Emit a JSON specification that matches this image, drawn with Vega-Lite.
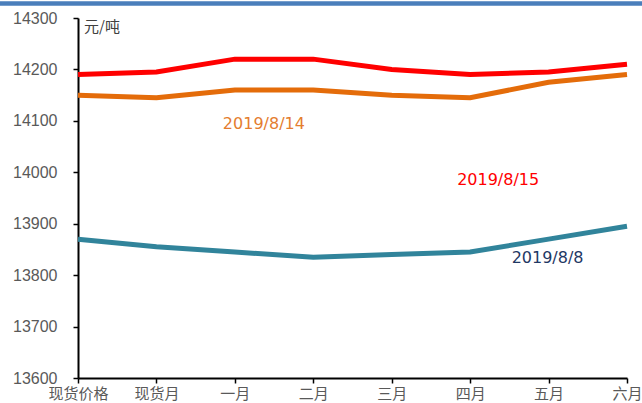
{
  "$schema": "https://vega.github.io/schema/vega-lite/v6.json",
  "width": 549,
  "height": 360,
  "autosize": {"type": "none"},
  "padding": {"left": 78, "top": 18, "right": 15, "bottom": 25},
  "background": "white",
  "config": {"view": {"stroke": null}},
  "layer": [
    {
      "data": {"values": [
        {"series": "2019/8/15", "month": "现货价格", "value": 14190},
        {"series": "2019/8/15", "month": "现货月", "value": 14195},
        {"series": "2019/8/15", "month": "一月", "value": 14220},
        {"series": "2019/8/15", "month": "二月", "value": 14220},
        {"series": "2019/8/15", "month": "三月", "value": 14200},
        {"series": "2019/8/15", "month": "四月", "value": 14190},
        {"series": "2019/8/15", "month": "五月", "value": 14195},
        {"series": "2019/8/15", "month": "六月", "value": 14210},
        {"series": "2019/8/14", "month": "现货价格", "value": 14150},
        {"series": "2019/8/14", "month": "现货月", "value": 14145},
        {"series": "2019/8/14", "month": "一月", "value": 14160},
        {"series": "2019/8/14", "month": "二月", "value": 14160},
        {"series": "2019/8/14", "month": "三月", "value": 14150},
        {"series": "2019/8/14", "month": "四月", "value": 14145},
        {"series": "2019/8/14", "month": "五月", "value": 14175},
        {"series": "2019/8/14", "month": "六月", "value": 14190},
        {"series": "2019/8/8", "month": "现货价格", "value": 13870},
        {"series": "2019/8/8", "month": "现货月", "value": 13855},
        {"series": "2019/8/8", "month": "一月", "value": 13845},
        {"series": "2019/8/8", "month": "二月", "value": 13835},
        {"series": "2019/8/8", "month": "三月", "value": 13840},
        {"series": "2019/8/8", "month": "四月", "value": 13845},
        {"series": "2019/8/8", "month": "五月", "value": 13870},
        {"series": "2019/8/8", "month": "六月", "value": 13895}
      ]},
      "mark": {"type": "line", "strokeWidth": 5, "clip": false},
      "encoding": {
        "x": {
          "field": "month", "type": "ordinal",
          "scale": {"type": "point", "padding": 0, "domain": ["现货价格", "现货月", "一月", "二月", "三月", "四月", "五月", "六月"]},
          "axis": {
            "title": null, "labelAngle": 0, "labelFont": "Noto Sans CJK SC", "labelFontSize": 15,
            "labelColor": "#595959", "labelPadding": 3, "labelBound": false, "labelOverlap": false,
            "domainColor": "black", "domainWidth": 2,
            "tickColor": "black", "tickWidth": 1.5, "tickSize": 5, "grid": false
          }
        },
        "y": {
          "field": "value", "type": "quantitative",
          "scale": {"domain": [13600, 14300], "nice": false, "zero": false},
          "axis": {
            "title": null, "values": [13600, 13700, 13800, 13900, 14000, 14100, 14200, 14300],
            "format": "d",
            "labelFont": "Liberation Sans", "labelFontSize": 16, "labelColor": "#595959",
            "labelPadding": 16, "domainColor": "black", "domainWidth": 2,
            "tickColor": "black", "tickWidth": 1.5, "tickSize": 5, "grid": false
          }
        },
        "color": {
          "field": "series", "type": "nominal",
          "scale": {"domain": ["2019/8/15", "2019/8/14", "2019/8/8"], "range": ["#ff0000", "#e46c0a", "#31849b"]},
          "legend": null
        }
      }
    },
    {
      "data": {"values": [{"month1": "现货价格", "month2": "六月", "value": 14328}]},
      "mark": {"type": "rule", "color": "#4a7ebb", "strokeWidth": 4.5, "xOffset": -78, "x2Offset": 15, "clip": false},
      "encoding": {
        "x": {"field": "month1", "type": "ordinal"},
        "x2": {"field": "month2"},
        "y": {"field": "value", "type": "quantitative"}
      }
    },
    {
      "data": {"values": [{"label": "元/吨", "month": "现货价格", "value": 14282}]},
      "mark": {"type": "text", "align": "left", "baseline": "middle", "dx": 6, "font": "Noto Sans CJK SC", "fontSize": 15, "color": "#404040"},
      "encoding": {"x": {"field": "month", "type": "ordinal"}, "y": {"field": "value", "type": "quantitative"}, "text": {"field": "label"}}
    },
    {
      "data": {"values": [{"label": "2019/8/14", "month": "一月", "value": 14094}]},
      "mark": {"type": "text", "align": "center", "baseline": "middle", "dx": 29, "font": "DejaVu Sans", "fontSize": 16, "color": "#e47d2f"},
      "encoding": {"x": {"field": "month", "type": "ordinal"}, "y": {"field": "value", "type": "quantitative"}, "text": {"field": "label"}}
    },
    {
      "data": {"values": [{"label": "2019/8/15", "month": "四月", "value": 13985}]},
      "mark": {"type": "text", "align": "center", "baseline": "middle", "dx": 28, "font": "DejaVu Sans", "fontSize": 16, "color": "#ff0000"},
      "encoding": {"x": {"field": "month", "type": "ordinal"}, "y": {"field": "value", "type": "quantitative"}, "text": {"field": "label"}}
    },
    {
      "data": {"values": [{"label": "2019/8/8", "month": "五月", "value": 13833}]},
      "mark": {"type": "text", "align": "center", "baseline": "middle", "dx": -1, "font": "DejaVu Sans", "fontSize": 16, "color": "#1f3864"},
      "encoding": {"x": {"field": "month", "type": "ordinal"}, "y": {"field": "value", "type": "quantitative"}, "text": {"field": "label"}}
    }
  ]
}
